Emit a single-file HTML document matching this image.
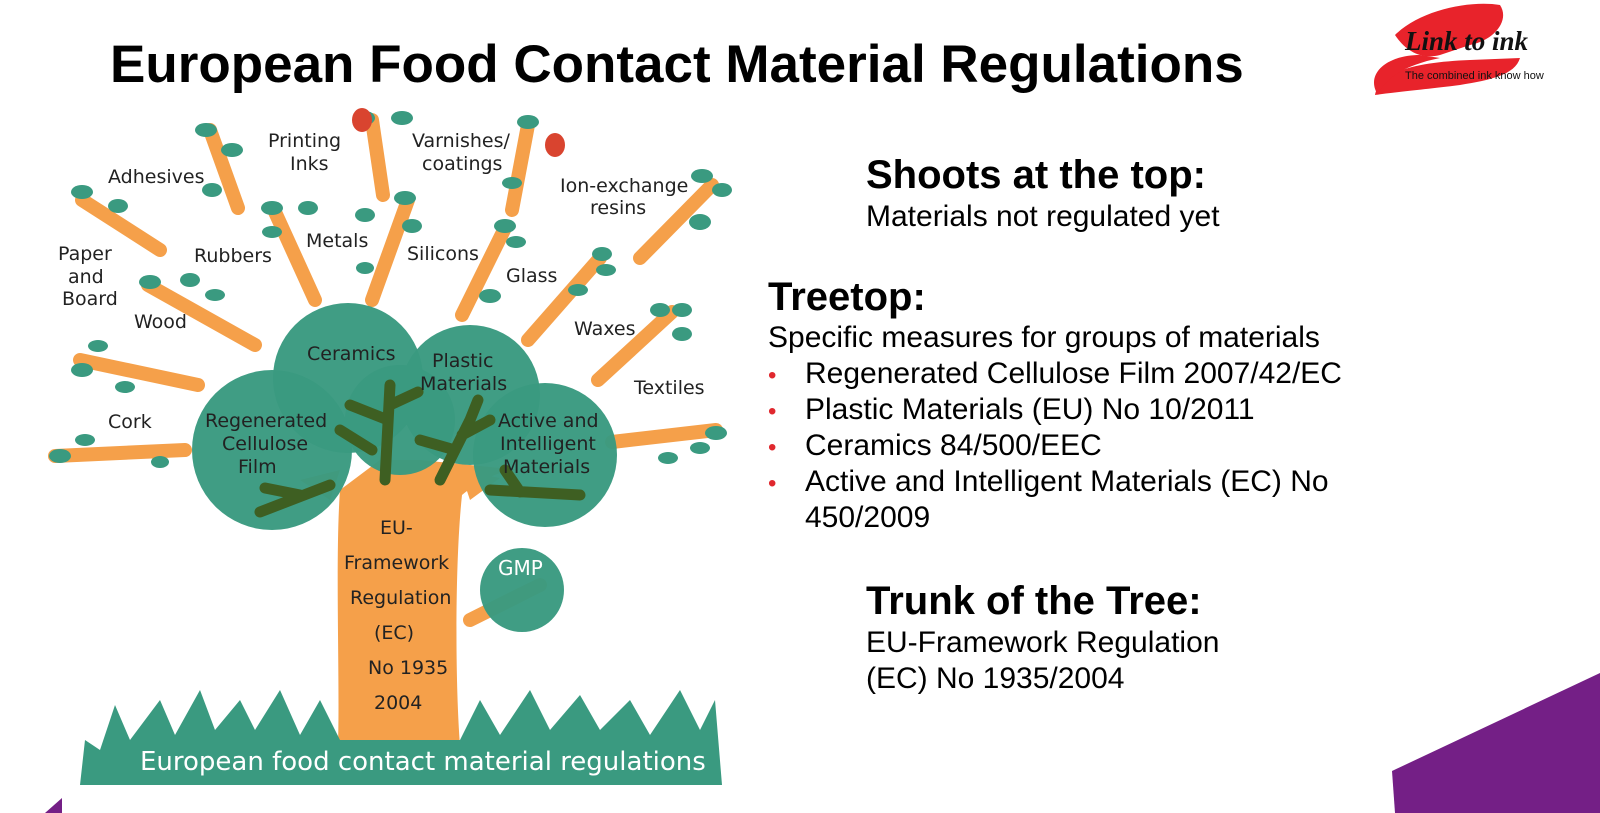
<!DOCTYPE html>
<html><head><meta charset="utf-8"><style>
html,body{margin:0;padding:0;background:#fff}
body{width:1600px;height:813px;position:relative;overflow:hidden;font-family:"Liberation Sans",sans-serif}
.t{position:absolute;color:#000;white-space:nowrap;line-height:1.15}
.h{font-weight:bold;font-size:40px}
.n{font-size:30px}
.b{position:absolute;color:#e0282e;font-size:24px;line-height:1}
</style></head><body>
<div class="t" style="left:110px;top:35px;font-size:53px;font-weight:bold">European Food Contact Material Regulations</div>

<svg width="1600" height="813" style="position:absolute;left:0;top:0">
<path d="M1395,35 C1420,10 1470,0 1500,5 C1510,20 1495,40 1470,45 L1440,55 C1420,60 1405,50 1395,35Z" fill="#e8232b"/>
<path d="M1375,95 C1380,70 1420,62 1470,60 L1520,58 C1515,75 1490,80 1460,85 C1420,90 1395,92 1375,95Z" fill="#e8232b"/>
<path d="M1378,95 C1365,75 1385,55 1420,55 L1440,58 C1405,65 1385,78 1378,95Z" fill="#e8232b"/>
<text x="1405" y="50" font-family="Liberation Serif,serif" font-style="italic" font-weight="bold" font-size="27" fill="#111">Link to ink</text>
<text x="1405" y="79" font-size="11" fill="#111">The combined ink know how</text>

<polygon points="1392,771 1600,673 1600,813 1395,813" fill="#741f86"/>
<polygon points="45,813 62,798 62,813" fill="#741f86"/>

<g stroke="#f5a04a" stroke-width="14" stroke-linecap="round" fill="none">
<line x1="55" y1="456" x2="185" y2="450"/>
<line x1="80" y1="360" x2="198" y2="385"/>
<line x1="148" y1="285" x2="255" y2="345"/>
<line x1="82" y1="200" x2="160" y2="250"/>
<line x1="210" y1="130" x2="238" y2="208"/>
<line x1="275" y1="212" x2="315" y2="300"/>
<line x1="372" y1="120" x2="383" y2="195"/>
<line x1="408" y1="200" x2="372" y2="300"/>
<line x1="528" y1="125" x2="512" y2="210"/>
<line x1="505" y1="228" x2="462" y2="315"/>
<line x1="712" y1="185" x2="640" y2="258"/>
<line x1="600" y1="258" x2="528" y2="340"/>
<line x1="672" y1="312" x2="598" y2="380"/>
<line x1="716" y1="430" x2="612" y2="442"/>
<line x1="540" y1="585" x2="470" y2="620"/>
</g>
<g fill="#3a9a80">
<ellipse cx="60" cy="456" rx="11" ry="7"/><ellipse cx="85" cy="440" rx="10" ry="6"/><ellipse cx="160" cy="462" rx="9" ry="6"/>
<ellipse cx="82" cy="370" rx="11" ry="7"/><ellipse cx="98" cy="346" rx="10" ry="6"/><ellipse cx="125" cy="387" rx="10" ry="6"/>
<ellipse cx="150" cy="282" rx="11" ry="7"/><ellipse cx="190" cy="280" rx="10" ry="7"/><ellipse cx="215" cy="295" rx="10" ry="6"/>
<ellipse cx="82" cy="192" rx="11" ry="7"/><ellipse cx="118" cy="206" rx="10" ry="7"/>
<ellipse cx="206" cy="130" rx="11" ry="7"/><ellipse cx="232" cy="150" rx="11" ry="7"/><ellipse cx="212" cy="190" rx="10" ry="7"/>
<ellipse cx="272" cy="208" rx="11" ry="7"/><ellipse cx="308" cy="208" rx="10" ry="7"/><ellipse cx="272" cy="232" rx="10" ry="6"/>
<ellipse cx="365" cy="118" rx="10" ry="7"/><ellipse cx="402" cy="118" rx="11" ry="7"/>
<ellipse cx="405" cy="198" rx="11" ry="7"/><ellipse cx="365" cy="215" rx="10" ry="7"/><ellipse cx="412" cy="226" rx="10" ry="7"/><ellipse cx="365" cy="268" rx="9" ry="6"/>
<ellipse cx="528" cy="122" rx="11" ry="7"/><ellipse cx="512" cy="183" rx="10" ry="6"/>
<ellipse cx="505" cy="226" rx="11" ry="7"/><ellipse cx="516" cy="242" rx="10" ry="6"/><ellipse cx="490" cy="296" rx="11" ry="7"/>
<ellipse cx="702" cy="176" rx="11" ry="7"/><ellipse cx="722" cy="190" rx="10" ry="7"/><ellipse cx="700" cy="222" rx="11" ry="8"/>
<ellipse cx="602" cy="254" rx="10" ry="7"/><ellipse cx="606" cy="270" rx="10" ry="6"/><ellipse cx="578" cy="290" rx="10" ry="6"/>
<ellipse cx="660" cy="310" rx="10" ry="7"/><ellipse cx="682" cy="310" rx="10" ry="7"/><ellipse cx="682" cy="334" rx="10" ry="7"/>
<ellipse cx="716" cy="433" rx="11" ry="7"/><ellipse cx="700" cy="448" rx="10" ry="6"/><ellipse cx="668" cy="458" rx="10" ry="6"/>
</g>
<ellipse cx="362" cy="120" rx="10" ry="12" fill="#d9442f"/>
<ellipse cx="555" cy="145" rx="10" ry="12" fill="#d9442f"/>
<path d="M340,490 C335,560 340,680 338,745 L460,745 C455,680 455,560 462,495 C480,480 500,470 520,470 L420,460 L380,460 Z" fill="#f5a04a"/>
<path d="M330,500 L300,480 L340,470 Z M470,500 L500,478 L460,470 Z" fill="#f5a04a"/>
<g fill="#3a9a80" fill-opacity="0.97">
<circle cx="272" cy="450" r="80"/>
<circle cx="348" cy="378" r="75"/>
<circle cx="470" cy="395" r="70"/>
<circle cx="545" cy="455" r="72"/>
<circle cx="400" cy="420" r="55"/>
<circle cx="522" cy="590" r="42"/>
</g>
<g stroke="#3e5f22" stroke-width="11" stroke-linecap="round" fill="none">
<path d="M385,480 L390,385 M388,420 L350,405 M390,405 L418,392 M372,450 L340,430"/>
<path d="M440,480 L470,420 L478,400 M462,435 L490,420 M455,450 L420,440"/>
<path d="M330,485 L260,512 M300,495 L265,488"/>
<path d="M490,490 L580,495 M520,492 L505,470"/>
</g>
<path d="M80,785 L85,740 L100,750 L115,705 L130,740 L160,700 L175,735 L200,690 L215,730 L240,700 L255,730 L280,690 L300,735 L320,700 L340,740 L460,740 L480,700 L500,735 L530,690 L550,730 L580,695 L600,730 L630,700 L650,735 L680,690 L700,730 L715,700 L722,785 Z" fill="#3a9a80"/>
<text x="140" y="770" font-size="26" fill="#fff" font-family="DejaVu Sans,sans-serif">European food contact material regulations</text>

<g font-family="DejaVu Sans,sans-serif" font-size="19" fill="#222">
<text x="108" y="183">Adhesives</text>
<text x="268" y="147">Printing</text><text x="290" y="170">Inks</text>
<text x="412" y="147">Varnishes/</text><text x="422" y="170">coatings</text>
<text x="560" y="192">Ion-exchange</text><text x="590" y="214">resins</text>
<text x="58" y="260">Paper</text><text x="68" y="283">and</text><text x="62" y="305">Board</text>
<text x="194" y="262">Rubbers</text>
<text x="306" y="247">Metals</text>
<text x="407" y="260">Silicons</text>
<text x="506" y="282">Glass</text>
<text x="134" y="328">Wood</text>
<text x="574" y="335">Waxes</text>
<text x="634" y="394">Textiles</text>
<text x="108" y="428">Cork</text>
<text x="307" y="360">Ceramics</text>
<text x="432" y="367">Plastic</text><text x="420" y="390">Materials</text>
<text x="205" y="427">Regenerated</text><text x="222" y="450">Cellulose</text><text x="238" y="473">Film</text>
<text x="498" y="427">Active and</text><text x="500" y="450">Intelligent</text><text x="503" y="473">Materials</text>
<text x="380" y="534">EU-</text>
<text x="344" y="569">Framework</text>
<text x="350" y="604">Regulation</text>
<text x="374" y="639">(EC)</text>
<text x="368" y="674">No 1935</text>
<text x="374" y="709">2004</text>
<text x="498" y="575" fill="#fff" font-size="20">GMP</text>
</g>
</svg>

<div class="t h" style="left:866px;top:152px">Shoots at the top:</div>
<div class="t n" style="left:866px;top:200px">Materials not regulated yet</div>
<div class="t h" style="left:768px;top:274px">Treetop:</div>
<div class="t n" style="left:768px;top:321px">Specific measures for groups of materials</div>
<div class="b" style="left:768px;top:364px">•</div><div class="t n" style="left:805px;top:357px">Regenerated Cellulose Film 2007/42/EC</div>
<div class="b" style="left:768px;top:400px">•</div><div class="t n" style="left:805px;top:393px">Plastic Materials (EU) No 10/2011</div>
<div class="b" style="left:768px;top:436px">•</div><div class="t n" style="left:805px;top:429px">Ceramics 84/500/EEC</div>
<div class="b" style="left:768px;top:472px">•</div><div class="t n" style="left:805px;top:465px">Active and Intelligent Materials (EC) No</div>
<div class="t n" style="left:805px;top:501px">450/2009</div>
<div class="t h" style="left:866px;top:578px">Trunk of the Tree:</div>
<div class="t n" style="left:866px;top:626px">EU-Framework Regulation</div>
<div class="t n" style="left:866px;top:662px">(EC) No 1935/2004</div>
</body></html>
